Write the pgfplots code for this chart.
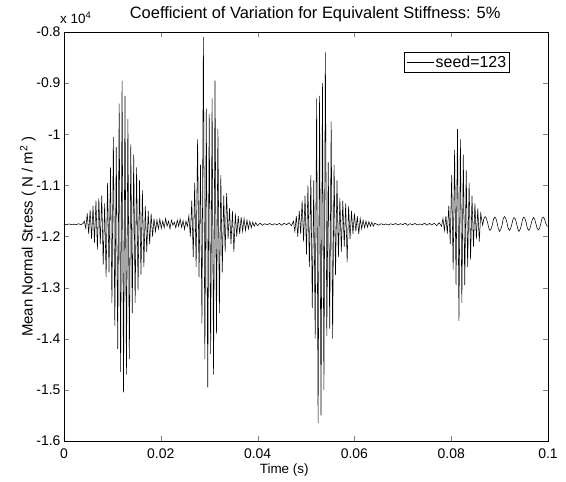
\documentclass[border=0pt]{standalone}
\usepackage{fontspec}
\setmainfont{Liberation Sans}
\usepackage{pgfplots}
\pgfplotsset{compat=1.18}

% mean normal stress, seed=123 (N/m^2 vs s)
\pgfplotstableread{
t v
0 -11760
0.0005 -11770
0.001 -11755
0.0015 -11765
0.002 -11760
0.0025 -11770
0.003 -11750
0.0035 -11770
0.004 -11740
0.0042 -11700
0.0045 -11840
0.0048 -11550
0.0051 -11950
0.0054 -11480
0.0057 -12050
0.0060 -11400
0.0063 -12120
0.0066 -11300
0.0069 -12250
0.0072 -11250
0.0075 -12150
0.0078 -11200
0.0081 -12550
0.0084 -11350
0.0087 -12800
0.0090 -10950
0.0093 -12700
0.0096 -10650
0.0099 -13300
0.0102 -10050
0.0105 -13750
0.0108 -10250
0.0111 -14200
0.0114 -9400
0.0117 -14650
0.0120 -8950
0.0123 -15050
0.0126 -9250
0.0129 -14700
0.0132 -9700
0.0135 -14400
0.0138 -10200
0.0141 -13500
0.0144 -10400
0.0147 -13300
0.0150 -10650
0.0153 -13050
0.0156 -10900
0.0159 -12750
0.0162 -11100
0.0165 -12600
0.0168 -11400
0.0171 -12300
0.0174 -11500
0.0177 -12150
0.0180 -11550
0.0183 -12000
0.0186 -11650
0.0189 -11900
0.0192 -11680
0.0195 -11850
0.0198 -11660
0.0201 -11840
0.0204 -11700
0.0207 -11830
0.0210 -11650
0.0213 -11800
0.0216 -11700
0.0219 -11850
0.0222 -11680
0.0225 -11780
0.0228 -11720
0.0231 -11830
0.0234 -11680
0.0237 -11800
0.0240 -11660
0.0243 -11820
0.0246 -11690
0.0249 -11860
0.0252 -11700
0.0255 -11800
0.0258 -11600
0.0261 -12000
0.0264 -11300
0.0267 -12400
0.0270 -10950
0.0273 -12600
0.0276 -10100
0.0279 -12800
0.0282 -10600
0.0285 -13700
0.0288 -8100
0.0291 -14400
0.0294 -9500
0.0297 -14950
0.0300 -9600
0.0303 -14300
0.0306 -9300
0.0309 -14700
0.0312 -8950
0.0315 -13900
0.0318 -9900
0.0321 -13500
0.0324 -10800
0.0327 -12700
0.0330 -11200
0.0333 -12300
0.0336 -11150
0.0339 -12050
0.0342 -11450
0.0345 -12150
0.0348 -11500
0.0351 -12300
0.0354 -11550
0.0357 -12000
0.0360 -11600
0.0363 -11950
0.0366 -11620
0.0369 -11900
0.0372 -11650
0.0375 -11880
0.0378 -11680
0.0381 -11850
0.0384 -11700
0.0387 -11830
0.0390 -11720
0.0393 -11800
0.0396 -11730
0.0400 -11790
0.0405 -11740
0.0410 -11780
0.0415 -11750
0.0420 -11770
0.0425 -11745
0.0430 -11775
0.0435 -11750
0.0440 -11770
0.0445 -11745
0.0450 -11780
0.0455 -11740
0.0460 -11770
0.0465 -11730
0.0470 -11790
0.0474 -11700
0.0477 -11900
0.0480 -11600
0.0483 -12000
0.0486 -11500
0.0489 -11950
0.0492 -11300
0.0495 -12100
0.0498 -11200
0.0501 -12350
0.0504 -11000
0.0507 -12600
0.0510 -10800
0.0513 -13400
0.0516 -10900
0.0519 -14000
0.0522 -9300
0.0525 -15650
0.0528 -9250
0.0531 -15500
0.0534 -9000
0.0537 -15000
0.0540 -8400
0.0543 -13950
0.0546 -10550
0.0549 -13800
0.0552 -9750
0.0555 -14000
0.0558 -10600
0.0561 -12750
0.0564 -10900
0.0567 -12400
0.0570 -11250
0.0573 -12300
0.0576 -11300
0.0579 -12200
0.0582 -11350
0.0585 -12500
0.0588 -11400
0.0591 -12050
0.0594 -11500
0.0597 -11950
0.0600 -11550
0.0603 -11900
0.0606 -11600
0.0609 -11950
0.0612 -11650
0.0615 -11850
0.0618 -11680
0.0621 -11830
0.0624 -11700
0.0627 -11820
0.0630 -11710
0.0633 -11800
0.0636 -11720
0.0639 -11800
0.0642 -11740
0.0650 -11780
0.0655 -11750
0.0660 -11770
0.0665 -11755
0.0670 -11775
0.0675 -11750
0.0680 -11770
0.0685 -11745
0.0690 -11775
0.0695 -11750
0.0700 -11770
0.0705 -11740
0.0710 -11780
0.0715 -11750
0.0720 -11770
0.0725 -11745
0.0730 -11775
0.0735 -11755
0.0740 -11770
0.0745 -11740
0.0750 -11780
0.0755 -11745
0.0760 -11775
0.0765 -11740
0.0770 -11790
0.0775 -11730
0.0780 -11800
0.0783 -11650
0.0786 -11880
0.0789 -11600
0.0792 -11950
0.0795 -11400
0.0798 -12150
0.0801 -10800
0.0804 -12650
0.0807 -10300
0.0810 -12950
0.0813 -9900
0.0816 -13650
0.0819 -10100
0.0822 -13300
0.0825 -10400
0.0828 -12950
0.0831 -10700
0.0834 -12600
0.0837 -10950
0.0840 -12450
0.0843 -11200
0.0846 -12200
0.0849 -11350
0.0852 -12050
0.0855 -11450
0.0858 -12100
0.0861 -11550
0.0865 -11780
0.08675 -11650
0.0870 -11610
0.08725 -11640
0.0875 -11720
0.08775 -11830
0.0880 -11880
0.08825 -11850
0.0885 -11770
0.08875 -11660
0.0890 -11620
0.08925 -11650
0.0895 -11740
0.08975 -11850
0.0900 -11900
0.09025 -11860
0.0905 -11780
0.09075 -11650
0.0910 -11610
0.09125 -11640
0.0915 -11720
0.09175 -11830
0.0920 -11880
0.09225 -11850
0.0925 -11770
0.09275 -11670
0.0930 -11630
0.09325 -11660
0.0935 -11740
0.09375 -11850
0.0940 -11900
0.09425 -11860
0.0945 -11780
0.09475 -11660
0.0950 -11620
0.09525 -11650
0.0955 -11730
0.09575 -11840
0.0960 -11880
0.09625 -11850
0.0965 -11760
0.09675 -11670
0.0970 -11630
0.09725 -11660
0.0975 -11750
0.09775 -11840
0.0980 -11870
0.09825 -11840
0.0985 -11750
0.09875 -11650
0.0990 -11620
0.09925 -11650
0.0995 -11730
0.09975 -11790
0.1000 -11800
}\stress

\begin{document}
\begin{tikzpicture}
\begin{axis}[
    name=ax,
    scale only axis,
    width=484bp, height=409bp,
    xmin=0, xmax=0.1,
    ymin=-16000, ymax=-8000,
    scaled ticks=false,
    xtick={0,0.02,0.04,0.06,0.08,0.1},
    xticklabels={0,0.02,0.04,0.06,0.08,0.1},
    ytick={-16000,-15000,-14000,-13000,-12000,-11000,-10000,-9000,-8000},
    yticklabels={-1.6,-1.5,-1.4,-1.3,-1.2,-1.1,-1,-0.9,-0.8},
    tick align=inside,
    major tick length=5bp,
    tick label style={font=\fontsize{14}{16}\selectfont},
    xticklabel shift=4.5bp,
    font=\fontsize{13.5}{16}\selectfont,
    title={Coefficient of Variation for Equivalent Stiffness: 5\%},
    every axis title/.style={at={(axis description cs:0.519,1.032)}, anchor=base,
        font=\fontsize{16.5}{19}\selectfont},
    xlabel={Time (s)},
    xlabel style={at={(axis description cs:0.455,-0.0465)}, anchor=north},
    ylabel={Mean Normal Stress ( N / m\textsuperscript{2} )},
    ylabel style={at={(axis description cs:-0.0744,0.5)}, anchor=center,
        font=\fontsize{15}{17}\selectfont},
    legend style={at={(axis description cs:0.9215,0.951)}, anchor=north east,
        draw=black, line width=0.6pt, inner sep=1.5pt,
        font=\fontsize{16}{19}\selectfont},
    legend cell align=left,
    legend image code/.code={\draw[#1, line width=0.5pt] (0bp,0bp) -- (27bp,0bp);},
    axis line style={line width=0.6pt},
]
\addplot[black, line width=0.55pt] table[x=t, y=v] {\stress};
\addlegendentry{seed=123}
\end{axis}
\node[anchor=base west, inner sep=0pt, font=\fontsize{13.5}{16}\selectfont]
    at ([shift={(-4bp,8bp)}]ax.north west) {x 10\textsuperscript{4}};
\pgfresetboundingbox
\path ([shift={(-64bp,-41bp)}]ax.south west) rectangle ([shift={(18bp,32bp)}]ax.north east);
\end{tikzpicture}
\end{document}
